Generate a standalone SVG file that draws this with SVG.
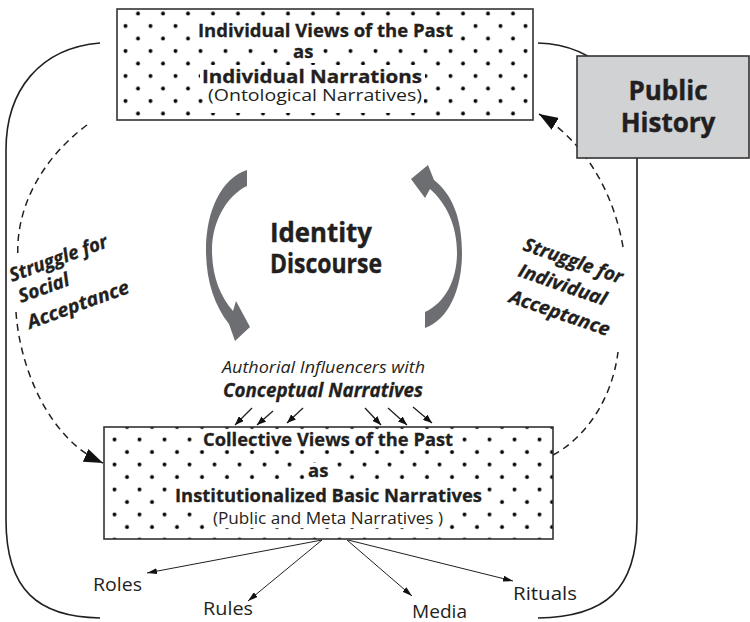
<svg xmlns="http://www.w3.org/2000/svg" width="750" height="622" viewBox="0 0 750 622">
<style>
text{font-family:"Open Sans","Liberation Sans",sans-serif;fill:#231f20}
.b{font-weight:bold}
.bt{font-weight:bold;font-size:18.5px;stroke:#231f20;stroke-width:0.3}
.sm{font-size:16.5px}
.lbl{font-size:18px}
.it{font-style:italic}
.big{font-weight:bold;font-size:26px;stroke:#231f20;stroke-width:0.4}
.st{font-weight:bold;font-style:italic;font-size:19px;stroke:#231f20;stroke-width:0.3}
.line{fill:none;stroke:#231f20;stroke-width:1.6}
.dash{fill:none;stroke:#231f20;stroke-width:1.5;stroke-dasharray:7 5}
.thin{fill:none;stroke:#231f20;stroke-width:1}
.box{stroke:#333;stroke-width:1.6}
.wb{fill:#fff}
.garrow{fill:#6d6e71}
</style>
<defs>
<pattern id="dotsTop" patternUnits="userSpaceOnUse" x="6.75" y="7.25" width="25" height="25">
<circle cx="6.25" cy="6.25" r="1.9" fill="#000"/>
<circle cx="18.75" cy="18.75" r="1.9" fill="#000"/>
</pattern>
<pattern id="dotsBot" patternUnits="userSpaceOnUse" x="20.75" y="20.75" width="25" height="25">
<circle cx="6.25" cy="6.25" r="1.9" fill="#000"/>
<circle cx="18.75" cy="18.75" r="1.9" fill="#000"/>
</pattern>
<marker id="bigHead" markerUnits="userSpaceOnUse" markerWidth="20" markerHeight="14" refX="19" refY="7" orient="auto">
<path d="M0,0 L19,7 L0,14 Z" fill="#111"/>
</marker>
<marker id="smallHead" markerUnits="userSpaceOnUse" markerWidth="9" markerHeight="7" refX="9" refY="3.5" orient="auto">
<path d="M0,0 L9,3.5 L0,7 Z" fill="#111"/>
</marker>
<marker id="thinHead" markerUnits="userSpaceOnUse" markerWidth="10" markerHeight="6" refX="10" refY="3" orient="auto">
<path d="M0,0 L10,3 L0,6 Z" fill="#111"/>
</marker>
</defs>
<rect width="750" height="622" fill="#fff"/>

<g id="connectors">
<path class="line" d="M100,43 C40,48 6,90 6,150 L6,520 C6,590 38,617 100,618"/>
<path class="line" d="M538,43 C600,45 637,90 637,150 L637,520 C637,590 605,617 538,618"/>
<path class="dash" d="M87,125 C40,160 15,210 18,258"/>
<path class="dash" d="M16,312 C20,370 50,440 103,463" marker-end="url(#bigHead)"/>
<path class="dash" d="M553,455 C585,438 612,400 618,352"/>
<path class="dash" d="M623,247 C615,200 590,145 539,114" marker-end="url(#bigHead)"/>
<g id="influencer-arrows">
<line class="line" style="stroke-width:1.3" x1="252" y1="408" x2="235" y2="425" marker-end="url(#smallHead)"/>
<line class="line" style="stroke-width:1.3" x1="273" y1="411" x2="257" y2="425" marker-end="url(#smallHead)"/>
<line class="line" style="stroke-width:1.3" x1="303" y1="408" x2="287" y2="423" marker-end="url(#smallHead)"/>
<line class="line" style="stroke-width:1.3" x1="365" y1="408" x2="381" y2="425" marker-end="url(#smallHead)"/>
<line class="line" style="stroke-width:1.3" x1="388" y1="408" x2="407" y2="425" marker-end="url(#smallHead)"/>
<line class="line" style="stroke-width:1.3" x1="413" y1="407" x2="432" y2="423" marker-end="url(#smallHead)"/>
</g>
<g id="output-arrows">
<line class="thin" x1="322" y1="540" x2="147" y2="573" marker-end="url(#thinHead)"/>
<line class="thin" x1="322" y1="540" x2="248" y2="601" marker-end="url(#thinHead)"/>
<line class="thin" x1="347" y1="540" x2="412" y2="596" marker-end="url(#thinHead)"/>
<line class="thin" x1="348" y1="540" x2="513" y2="581" marker-end="url(#thinHead)"/>
</g>
</g>

<g id="individual-views">
<rect x="117" y="9" width="416" height="111" fill="#fff"/>
<rect x="117" y="9" width="416" height="111" fill="url(#dotsTop)" class="box"/>
<rect class="wb" x="196" y="22" width="259" height="19"/>
<rect class="wb" x="291" y="47" width="24" height="16"/>
<rect class="wb" x="200" y="65" width="225" height="22"/>
<rect class="wb" x="206" y="87" width="218" height="26"/>
<text class="bt" x="198" y="37" textLength="255" lengthAdjust="spacingAndGlyphs">Individual Views of the Past</text>
<text class="bt" x="293" y="58">as</text>
<text class="bt" x="202" y="83" textLength="220" lengthAdjust="spacingAndGlyphs">Individual Narrations</text>
<text class="sm" x="208" y="101" textLength="214" lengthAdjust="spacingAndGlyphs">(Ontological Narratives)</text>
</g>

<g id="public-history">
<rect x="577" y="56" width="172" height="102" fill="#d1d2d4" class="box"/>
<text class="big" x="668" y="100" text-anchor="middle">Public</text>
<text class="big" x="668" y="132" text-anchor="middle">History</text>
</g>

<g id="identity-discourse">
<path class="garrow" d="M247,170 L247,186 C228,195 212,220 212,250 C212,276 220,296 233,311 L236,301 L250,327 L235,341 L229,324 C214,305 206,280 206,250 C206,210 222,178 247,170 Z"/>
<path class="garrow" d="M425,328 C448,320 462,290 462,253 C462,218 452,194 434,180 L428,165 L411,179 L425,198 L430,189 C446,203 457,225 457,253 C457,280 445,303 425,312 Z"/>
<text class="big" x="270" y="242" textLength="102" lengthAdjust="spacingAndGlyphs">Identity</text>
<text class="big" x="270" y="273" textLength="112" lengthAdjust="spacingAndGlyphs">Discourse</text>
</g>

<g id="struggle-social">
<text class="st" transform="translate(12,282) rotate(-20)" textLength="103" lengthAdjust="spacingAndGlyphs">Struggle for</text>
<text class="st" transform="translate(21,303) rotate(-20)">Social</text>
<text class="st" transform="translate(30,329) rotate(-20)" textLength="107" lengthAdjust="spacingAndGlyphs">Acceptance</text>
</g>

<g id="struggle-individual">
<text class="st" transform="translate(522,250) rotate(19)" textLength="104" lengthAdjust="spacingAndGlyphs">Struggle for</text>
<text class="st" transform="translate(517,276) rotate(19)" textLength="92" lengthAdjust="spacingAndGlyphs">Individual</text>
<text class="st" transform="translate(508,302) rotate(19)" textLength="105" lengthAdjust="spacingAndGlyphs">Acceptance</text>
</g>

<g id="authorial-influencers">
<text class="it" style="font-size:17px" x="222" y="373" textLength="203" lengthAdjust="spacingAndGlyphs">Authorial Influencers with</text>
<text class="b it" style="font-size:19px;stroke:#231f20;stroke-width:0.3" x="223" y="397" textLength="200" lengthAdjust="spacingAndGlyphs">Conceptual Narratives</text>
</g>

<g id="collective-views">
<rect x="104" y="427" width="449" height="112" fill="#fff"/>
<rect x="104" y="427" width="449" height="112" fill="url(#dotsBot)" class="box"/>
<rect class="wb" x="201" y="430" width="254" height="20"/>
<rect class="wb" x="306" y="463" width="24" height="17"/>
<rect class="wb" x="173" y="485" width="311" height="21"/>
<rect class="wb" x="211" y="508" width="233" height="20"/>
<text class="bt" x="203" y="446" textLength="250" lengthAdjust="spacingAndGlyphs">Collective Views of the Past</text>
<text class="bt" x="308" y="477">as</text>
<text class="bt" x="175" y="502" textLength="307" lengthAdjust="spacingAndGlyphs">Institutionalized Basic Narratives</text>
<text class="sm" x="213" y="524" textLength="230" lengthAdjust="spacingAndGlyphs">(Public and Meta Narratives )</text>
</g>

<g id="roles"><text class="lbl" x="93" y="591" textLength="49" lengthAdjust="spacingAndGlyphs">Roles</text></g>
<g id="rules"><text class="lbl" x="203" y="615" textLength="50" lengthAdjust="spacingAndGlyphs">Rules</text></g>
<g id="media"><text class="lbl" x="412" y="618" textLength="55" lengthAdjust="spacingAndGlyphs">Media</text></g>
<g id="rituals"><text class="lbl" x="513" y="600" textLength="64" lengthAdjust="spacingAndGlyphs">Rituals</text></g>
</svg>
